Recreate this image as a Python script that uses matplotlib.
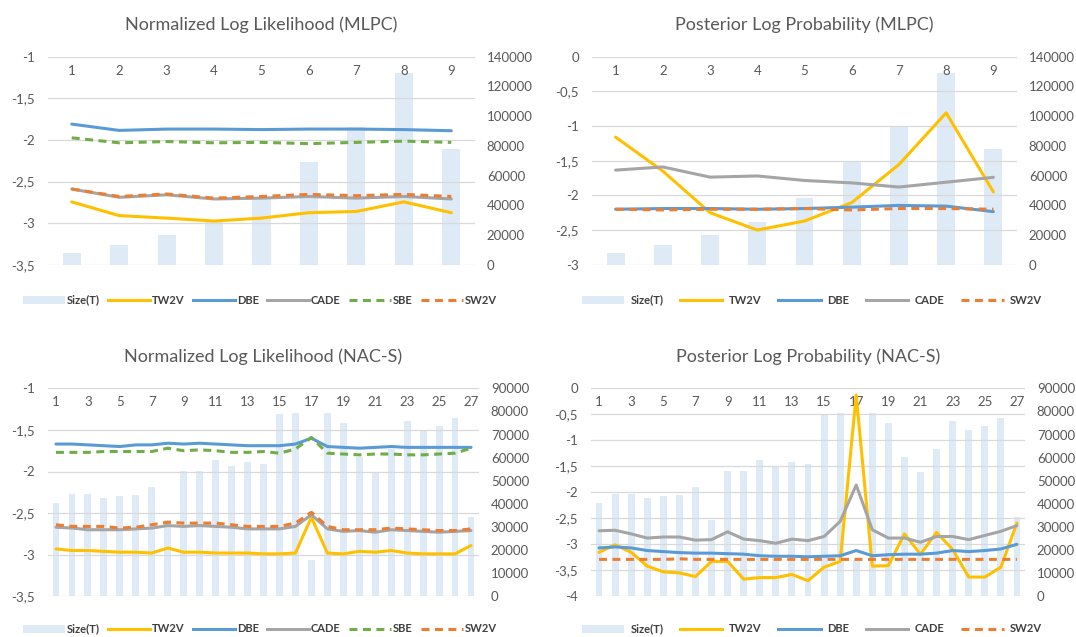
import matplotlib
matplotlib.use('Agg')
import matplotlib.pyplot as plt
from matplotlib.lines import Line2D
from matplotlib.patches import Patch
from matplotlib.ticker import FuncFormatter, MultipleLocator

plt.rcParams['font.family'] = ['Lato', 'DejaVu Sans']

# --- data ---
mlpc_x = list(range(1, 10))
mlpc_size = [8000, 13500, 20000, 29000, 45000, 69000, 92500, 129000, 78000]

nll_mlpc_tw2v = [-2.745, -2.91, -2.94, -2.975, -2.94, -2.875, -2.86, -2.745, -2.875]
nll_mlpc_dbe = [-1.81, -1.886, -1.87, -1.87, -1.876, -1.87, -1.87, -1.876, -1.89]
nll_mlpc_cade = [-2.59, -2.69, -2.66, -2.71, -2.70, -2.68, -2.70, -2.68, -2.71]
nll_mlpc_sbe = [-1.975, -2.035, -2.02, -2.035, -2.03, -2.045, -2.03, -2.015, -2.03]
nll_mlpc_sw2v = [-2.59, -2.68, -2.65, -2.70, -2.68, -2.655, -2.67, -2.655, -2.68]

plp_mlpc_tw2v = [-1.16, -1.65, -2.25, -2.50, -2.37, -2.105, -1.555, -0.81, -1.95]
plp_mlpc_dbe = [-2.20, -2.19, -2.19, -2.20, -2.19, -2.17, -2.145, -2.155, -2.235]
plp_mlpc_cade = [-1.636, -1.59, -1.737, -1.72, -1.785, -1.82, -1.88, -1.81, -1.74]
plp_mlpc_sw2v = [-2.20, -2.21, -2.20, -2.20, -2.19, -2.21, -2.19, -2.19, -2.20]

nac_x = list(range(1, 28))
nac_size = [40300, 44400, 44400, 42700, 43400, 43800, 47500, 32900, 54300,
            54300, 58800, 56500, 58100, 57100, 78900, 79300, 15900, 79200,
            74900, 60200, 53900, 63700, 76000, 71800, 73600, 77000, 34400]

nll_nac_tw2v = [-2.93, -2.95, -2.95, -2.96, -2.97, -2.97, -2.98, -2.92, -2.97,
                -2.97, -2.98, -2.98, -2.98, -2.99, -2.99, -2.98, -2.55, -2.98,
                -2.99, -2.96, -2.97, -2.95, -2.98, -2.99, -2.99, -2.99, -2.89]
nll_nac_dbe = [-1.67, -1.67, -1.68, -1.69, -1.70, -1.68, -1.68, -1.66, -1.67,
               -1.66, -1.67, -1.68, -1.69, -1.69, -1.69, -1.67, -1.60, -1.70,
               -1.71, -1.72, -1.71, -1.70, -1.71, -1.71, -1.71, -1.71, -1.71]
nll_nac_cade = [-2.67, -2.68, -2.70, -2.70, -2.70, -2.69, -2.68, -2.65, -2.66,
                -2.65, -2.66, -2.67, -2.69, -2.69, -2.69, -2.66, -2.52, -2.69,
                -2.72, -2.71, -2.73, -2.70, -2.71, -2.72, -2.73, -2.72, -2.71]
nll_nac_sbe = [-1.77, -1.77, -1.77, -1.76, -1.76, -1.76, -1.76, -1.72, -1.75,
               -1.74, -1.75, -1.77, -1.77, -1.76, -1.78, -1.73, -1.59, -1.78,
               -1.79, -1.80, -1.79, -1.79, -1.80, -1.80, -1.79, -1.78, -1.72]
nll_nac_sw2v = [-2.64, -2.66, -2.66, -2.66, -2.68, -2.67, -2.64, -2.61, -2.62,
                -2.62, -2.62, -2.64, -2.66, -2.66, -2.66, -2.62, -2.49, -2.66,
                -2.70, -2.70, -2.70, -2.68, -2.69, -2.70, -2.71, -2.71, -2.69]

plp_nac_tw2v = [-3.155, -3.01, -3.155, -3.42, -3.53, -3.55, -3.62, -3.33, -3.33,
                -3.67, -3.64, -3.64, -3.58, -3.70, -3.44, -3.33, -0.13, -3.42,
                -3.41, -2.80, -3.19, -2.77, -3.10, -3.63, -3.63, -3.44, -2.59]
plp_nac_dbe = [-3.07, -3.05, -3.07, -3.12, -3.14, -3.16, -3.17, -3.17, -3.18,
               -3.19, -3.22, -3.23, -3.23, -3.24, -3.23, -3.22, -3.12, -3.22,
               -3.20, -3.19, -3.19, -3.17, -3.12, -3.14, -3.12, -3.09, -3.00]
plp_nac_cade = [-2.74, -2.73, -2.80, -2.88, -2.86, -2.86, -2.92, -2.91, -2.76,
                -2.90, -2.93, -2.98, -2.90, -2.93, -2.85, -2.56, -1.86, -2.72,
                -2.88, -2.88, -2.96, -2.85, -2.85, -2.91, -2.83, -2.75, -2.64]
plp_nac_sw2v = [-3.29, -3.29, -3.29, -3.29, -3.29, -3.28, -3.29, -3.29, -3.29,
                -3.29, -3.29, -3.29, -3.29, -3.29, -3.29, -3.29, -3.29, -3.29,
                -3.29, -3.29, -3.29, -3.29, -3.29, -3.29, -3.29, -3.29, -3.29]

# --- styles ---
BAR_COLOR = '#DEEBF7'
TEXT_COLOR = '#595959'
GRID_COLOR = '#D9D9D9'
STYLES = {
    'TW2V': dict(color='#FFC000', ls='-'),
    'DBE': dict(color='#5B9BD5', ls='-'),
    'CADE': dict(color='#A5A5A5', ls='-'),
    'SBE': dict(color='#70AD47', ls=(0, (2.6, 1.8))),
    'SW2V': dict(color='#ED7D31', ls=(0, (2.6, 1.8))),
}
LW = 2.2

W, H = 1076, 637
fig = plt.figure(figsize=(W / 100, H / 100), dpi=100)


def comma_fmt(v, pos):
    return f'{v:g}'.replace('.', ',')


def draw_panel(box, title, x, sizes, series, ylim, bar_max, bar_step, xstep,
               bar_w, legend_xy, wide_legend):
    x0, y0, x1, y1 = box
    ax = fig.add_axes([x0 / W, 1 - y1 / H, (x1 - x0) / W, (y1 - y0) / H])
    ax2 = ax.twinx()
    ax.set_zorder(2)
    ax2.set_zorder(1)
    ax.patch.set_visible(False)

    ax2.bar(x, sizes, width=bar_w, color=BAR_COLOR, zorder=1)
    ax2.set_ylim(0, bar_max)
    ax2.yaxis.set_major_locator(MultipleLocator(bar_step))

    for name, vals in series:
        ax.plot(x, vals, lw=LW, solid_capstyle='round', dash_capstyle='butt',
                label=name, **STYLES[name])

    ax.set_ylim(*ylim)
    ax.yaxis.set_major_locator(MultipleLocator(0.5))
    ax.yaxis.set_major_formatter(FuncFormatter(comma_fmt))
    ax.set_xlim(0.5, len(x) + 0.5)
    ax.set_xticks(x[::xstep])
    ax.grid(axis='y', color=GRID_COLOR, lw=0.9)
    ax.grid(axis='x', visible=False)

    for a in (ax, ax2):
        for s in a.spines.values():
            s.set_visible(False)
    ax.tick_params(axis='y', length=0, pad=9.5, labelsize=9.5, labelcolor=TEXT_COLOR)
    ax2.tick_params(axis='y', length=0, pad=8.5, labelsize=9.5, labelcolor=TEXT_COLOR)
    ax.tick_params(axis='x', bottom=False, top=False, labelbottom=False,
                   labeltop=True, pad=-18, labelsize=9.5, labelcolor=TEXT_COLOR)

    fig.text((x0 + x1) / 2 / W, 1 - (y0 - 26.5) / H, title, ha='center',
             va='baseline', fontsize=13, color=TEXT_COLOR)

    handles = [Patch(facecolor=BAR_COLOR, edgecolor='none')]
    labels = ['Size(T)']
    for name, _ in series:
        handles.append(Line2D([], [], lw=LW, **STYLES[name]))
        labels.append(name)
    if wide_legend:
        tp, cs = 0.6, 1.5
    else:
        tp, cs = 0.15, 0.75
    fig.legend(handles, labels, loc='center', ncol=len(labels),
               bbox_to_anchor=(legend_xy[0] / W, 1 - legend_xy[1] / H),
               frameon=False, handlelength=3.8, handletextpad=tp,
               columnspacing=cs, prop=dict(size=8, weight='bold'),
               labelcolor='#404040')


draw_panel((48, 56.7, 475, 264.7), 'Normalized Log Likelihood (MLPC)', mlpc_x, mlpc_size,
           [('TW2V', nll_mlpc_tw2v), ('DBE', nll_mlpc_dbe), ('CADE', nll_mlpc_cade),
            ('SBE', nll_mlpc_sbe), ('SW2V', nll_mlpc_sw2v)],
           (-3.5, -1), 140000, 20000, 1, 0.38, (260, 300), False)

draw_panel((592, 56.7, 1017, 264.7), 'Posterior Log Probability (MLPC)', mlpc_x, mlpc_size,
           [('TW2V', plp_mlpc_tw2v), ('DBE', plp_mlpc_dbe), ('CADE', plp_mlpc_cade),
            ('SW2V', plp_mlpc_sw2v)],
           (-3, 0), 140000, 20000, 1, 0.38, (812, 300), True)

draw_panel((48, 388.3, 479, 596.3), 'Normalized Log Likelihood (NAC-S)', nac_x, nac_size,
           [('TW2V', nll_nac_tw2v), ('DBE', nll_nac_dbe), ('CADE', nll_nac_cade),
            ('SBE', nll_nac_sbe), ('SW2V', nll_nac_sw2v)],
           (-3.5, -1), 90000, 10000, 2, 0.43, (260, 629), False)

draw_panel((591, 388.3, 1025, 596.3), 'Posterior Log Probability (NAC-S)', nac_x, nac_size,
           [('TW2V', plp_nac_tw2v), ('DBE', plp_nac_dbe), ('CADE', plp_nac_cade),
            ('SW2V', plp_nac_sw2v)],
           (-4, 0), 90000, 10000, 2, 0.43, (812, 629), True)

fig.savefig('out.png', dpi=100)
